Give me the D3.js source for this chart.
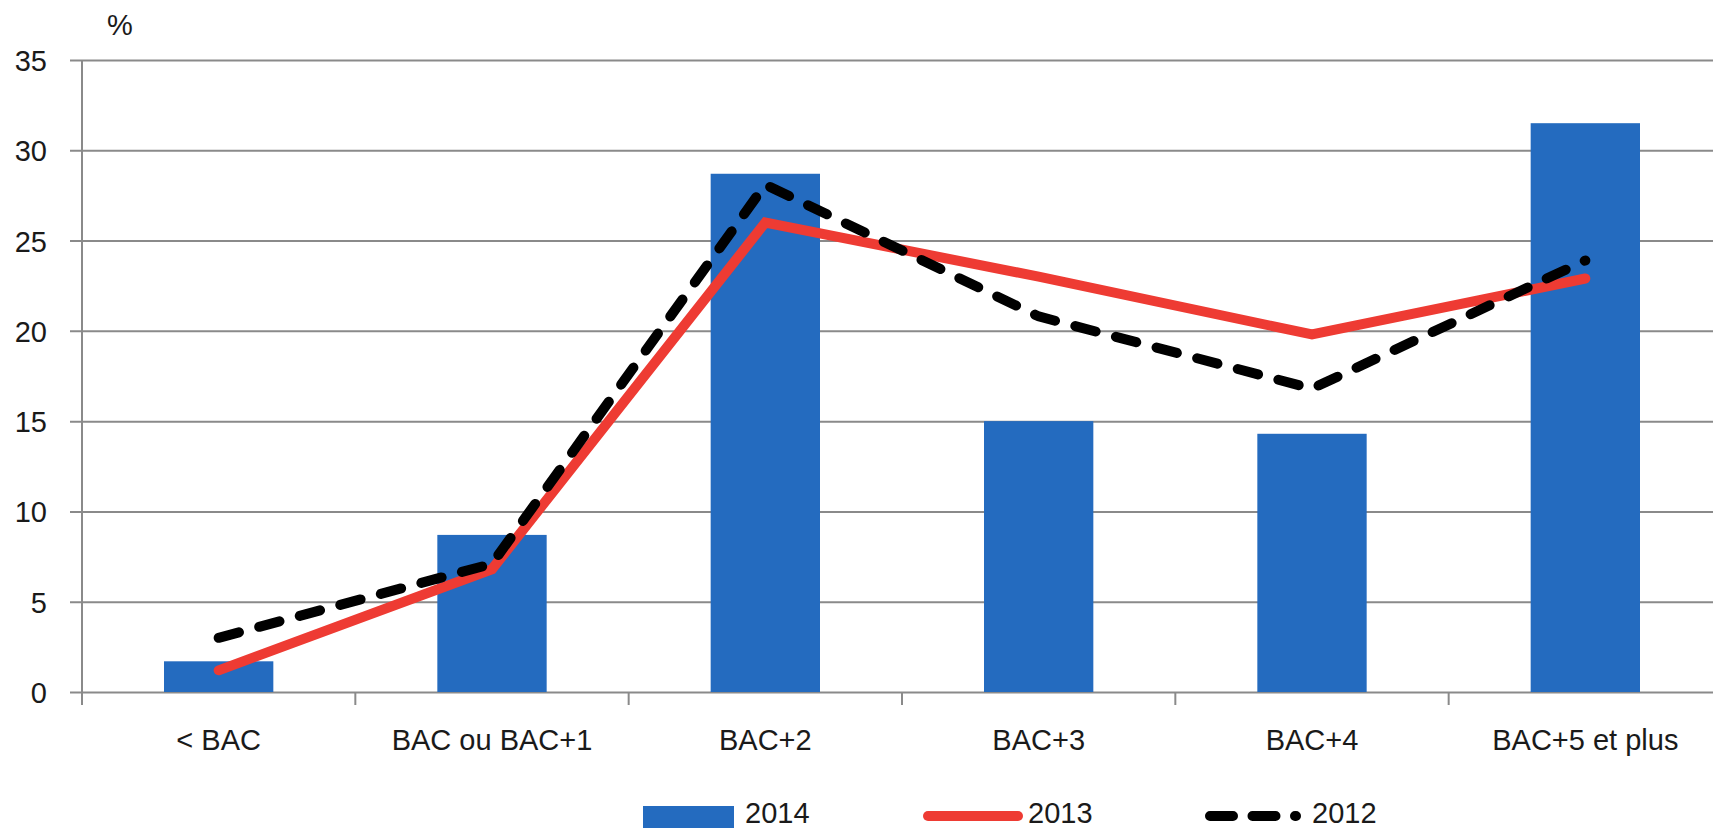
<!DOCTYPE html>
<html>
<head>
<meta charset="utf-8">
<script src="https://cdn.jsdelivr.net/npm/d3@7"></script>
<style>
  html, body { margin: 0; padding: 0; background: #fff; }
  svg { display: block; }
  svg text { font-family: "Liberation Sans", Arial, sans-serif; fill: #1a1a1a; }
</style>
</head>
<body>
<div id="chart"></div>
<script>
const categories = ['< BAC', 'BAC ou BAC+1', 'BAC+2', 'BAC+3', 'BAC+4', 'BAC+5 et plus'];
const values2014 = [1.7, 8.7, 28.7, 15.0, 14.3, 31.5];
const values2013 = [1.2, 6.8, 26.0, 23.0, 19.8, 22.9];
const values2012 = [3.0, 7.1, 28.1, 20.8, 16.8, 23.9];
const yTicks = [0, 5, 10, 15, 20, 25, 30, 35];
const seriesNames = ['2014', '2013', '2012'];

const width = 1713, height = 828;
const plot = {left: 82, right: 1722, top: 60, bottom: 692};

const blue = '#246bbf', red = '#ee3b33', gridColor = '#8a8a8a';

const svg = d3.select('#chart').append('svg')
    .attr('width', width)
    .attr('height', height)
    .attr('viewBox', [0, 0, width, height]);

const x = d3.scaleBand()
    .domain(categories)
    .range([plot.left, plot.right])
    .padding(0);
const y = d3.scaleLinear()
    .domain([0, 35])
    .range([plot.bottom, plot.top]);

// horizontal gridlines + y labels
const yAxis = svg.append('g')
    .attr('class', 'y axis')
    .attr('transform', `translate(${plot.left},0)`)
    .call(d3.axisLeft(y)
        .tickValues(yTicks)
        .tickSize(12)
        .tickPadding(23)
        .tickFormat(d3.format('d')));
yAxis.select('.domain').remove();
yAxis.selectAll('.tick line')
    .attr('x1', -12)
    .attr('x2', width - plot.left)
    .attr('stroke', gridColor)
    .attr('stroke-width', 2);
yAxis.selectAll('.tick text')
    .attr('font-size', 29)
    .attr('dy', '0.36em');

// vertical axis line
svg.append('line')
    .attr('x1', plot.left).attr('x2', plot.left)
    .attr('y1', y(35)).attr('y2', plot.bottom + 13)
    .attr('stroke', gridColor)
    .attr('stroke-width', 2);

// category ticks
svg.append('g')
    .selectAll('line')
    .data(categories.slice(1))
    .join('line')
    .attr('x1', d => x(d)).attr('x2', d => x(d))
    .attr('y1', plot.bottom).attr('y2', plot.bottom + 13)
    .attr('stroke', gridColor)
    .attr('stroke-width', 2);

// category labels
svg.append('g')
    .selectAll('text')
    .data(categories)
    .join('text')
    .attr('x', d => x(d) + x.bandwidth() / 2)
    .attr('y', 750)
    .attr('text-anchor', 'middle')
    .attr('font-size', 29)
    .text(d => d);

// unit label
svg.append('text')
    .attr('x', 120).attr('y', 35)
    .attr('text-anchor', 'middle')
    .attr('font-size', 29)
    .text('%');

// bars 2014
const barW = x.bandwidth() * 0.4;
svg.append('g')
    .selectAll('rect')
    .data(values2014)
    .join('rect')
    .attr('x', (d, i) => x(categories[i]) + (x.bandwidth() - barW) / 2)
    .attr('y', d => y(d))
    .attr('width', barW)
    .attr('height', d => plot.bottom - y(d))
    .attr('fill', blue);

const line = d3.line()
    .x((d, i) => x(categories[i]) + x.bandwidth() / 2)
    .y(d => y(d));

// 2013 line
svg.append('path')
    .datum(values2013)
    .attr('d', line)
    .attr('fill', 'none')
    .attr('stroke', red)
    .attr('stroke-width', 10)
    .attr('stroke-linecap', 'round');

// 2012 dashed line
svg.append('path')
    .datum(values2012)
    .attr('d', line)
    .attr('fill', 'none')
    .attr('stroke', '#000')
    .attr('stroke-width', 10)
    .attr('stroke-linecap', 'round')
    .attr('stroke-dasharray', '21,21');

// legend
const legend = svg.append('g').attr('class', 'legend');
legend.append('rect')
    .attr('x', 643).attr('y', 806)
    .attr('width', 91).attr('height', 22)
    .attr('fill', blue);
legend.append('line')
    .attr('x1', 928).attr('x2', 1018)
    .attr('y1', 816).attr('y2', 816)
    .attr('stroke', red)
    .attr('stroke-width', 10)
    .attr('stroke-linecap', 'round');
legend.append('line')
    .attr('x1', 1210).attr('x2', 1296)
    .attr('y1', 816).attr('y2', 816)
    .attr('stroke', '#000')
    .attr('stroke-width', 10)
    .attr('stroke-linecap', 'round')
    .attr('stroke-dasharray', '23,19.5');
legend.selectAll('text')
    .data(seriesNames)
    .join('text')
    .attr('x', (d, i) => [745, 1028, 1312][i])
    .attr('y', 823)
    .attr('font-size', 29)
    .text(d => d);
</script>
</body>
</html>
